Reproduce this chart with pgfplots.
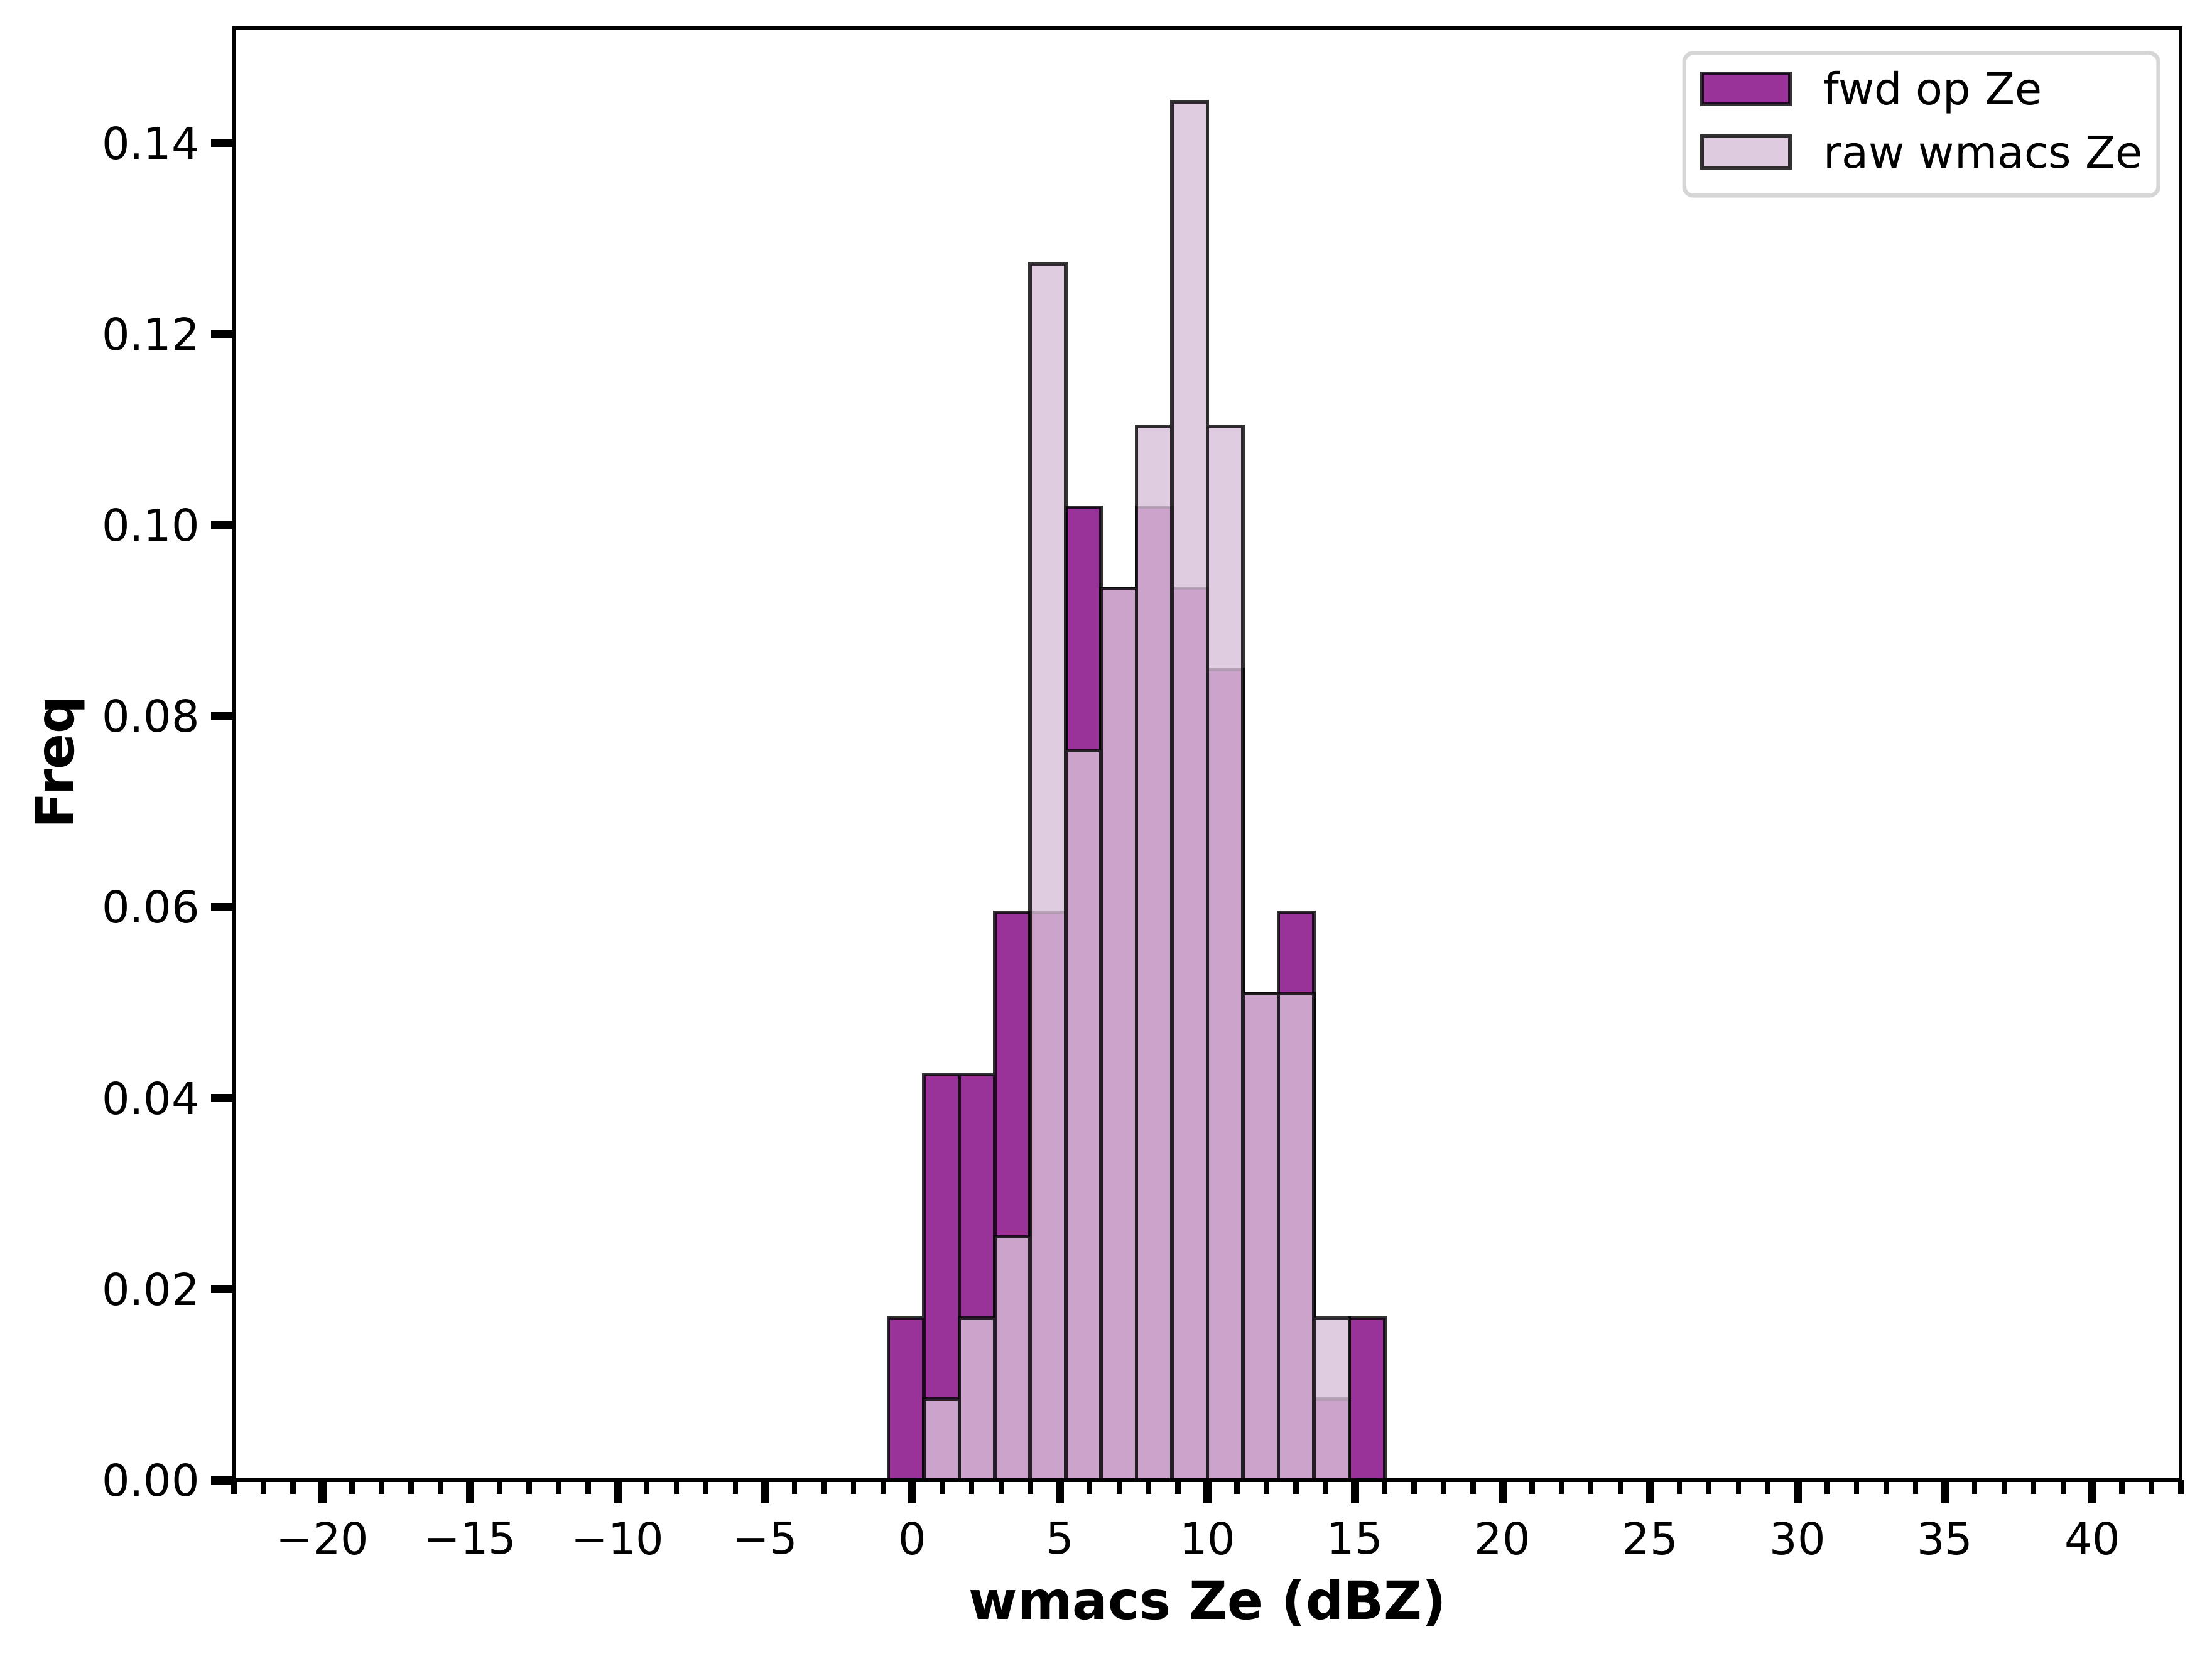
\documentclass[border=0pt]{standalone}
\usepackage{fontspec}
\setmainfont{DejaVu Sans}
\usepackage{pgfplots}
\pgfplotsset{compat=1.18}
\definecolor{mpurple}{RGB}{128,0,128}
\definecolor{mthistle}{RGB}{216,191,216}
\definecolor{legframe}{RGB}{214,214,214}
\pgfplotsset{
  mylegend/.style={legend image code/.code={\draw[##1,sharp corners] (0pt,-2.65pt) rectangle (20pt,4.45pt);}}
}
\begin{document}
\begin{tikzpicture}
\begin{axis}[
  scale only axis, width=442.84pt, height=330.29pt,
  xmin=-23, xmax=43, ymin=0, ymax=0.1520,
  axis on top,
  axis line style={line width=0.8pt, black},
  tick align=outside, tick pos=left,
  xtick={-20,-15,-10,-5,0,5,10,15,20,25,30,35,40},
  xticklabels={−20,−15,−10,−5,0,5,10,15,20,25,30,35,40},
  minor xtick={-23,-22,...,43},
  ytick={0,0.02,0.04,0.06,0.08,0.10,0.12,0.14},
  yticklabels={0.00,0.02,0.04,0.06,0.08,0.10,0.12,0.14},
  major tick length=5.2pt, minor tick length=3.1pt,
  every major tick/.append style={line width=1.86pt, black},
  every minor tick/.append style={line width=1.2pt, black},
  xticklabel style={font=\fontsize{10}{12}\selectfont, inner sep=0pt, anchor=north},
  yticklabel style={font=\fontsize{10}{12}\selectfont, inner sep=0pt, anchor=east},
  xticklabel shift=4.04pt, yticklabel shift=2.4pt,
  xlabel={wmacs Ze (dBZ)},
  ylabel={Freq},
  xlabel style={at={(axis description cs:0.5,-0.0675)}, anchor=north, inner sep=0pt, font=\bfseries\fontsize{12}{14}\selectfont},
  ylabel style={at={(axis description cs:-0.0761,0.4945)}, rotate=0, anchor=south, inner sep=0pt, font=\bfseries\fontsize{12}{14}\selectfont},
  legend style={at={(1,1)}, anchor=north east, xshift=-4.7pt, yshift=-5.2pt,
    draw=legframe, line width=0.9pt, rounded corners=2pt, fill=white,
    inner xsep=3.6pt, inner ysep=4.1pt, row sep=4.6pt, column sep=7.3pt,
    font=\fontsize{10}{12}\selectfont,
    nodes={inner sep=0pt, text height=7.6pt, text depth=2.2pt}},
  legend cell align=left,
]
\addplot[ybar interval, fill=mpurple, fill opacity=0.8, draw=black, draw opacity=0.8, line width=0.8pt, mylegend] coordinates {
(-0.820,0.01698) (0.382,0.04244) (1.584,0.04244) (2.786,0.05942) (3.988,0.05942)
(5.191,0.10187) (6.393,0.09338) (7.595,0.10187) (8.797,0.09338) (9.999,0.08489)
(11.201,0.05093) (12.403,0.05942) (13.605,0.00849) (14.807,0.01698) (16.009,0.01698)
};
\addlegendentry{fwd op Ze}
\addplot[ybar interval, fill=mthistle, fill opacity=0.8, draw=black, draw opacity=0.8, line width=0.8pt, mylegend] coordinates {
(0.382,0.00849) (1.584,0.01698) (2.786,0.02547) (3.988,0.12733) (5.191,0.07640)
(6.393,0.09338) (7.595,0.11036) (8.797,0.14431) (9.999,0.11036) (11.201,0.05093)
(12.403,0.05093) (13.605,0.01698) (14.807,0.01698)
};
\addlegendentry{raw wmacs Ze}
\end{axis}
\pgfresetboundingbox
\path[use as bounding box] ([xshift=-53.24pt,yshift=-41.0pt]current axis.south west) rectangle ([xshift=7.06pt,yshift=6.43pt]current axis.north east);
\end{tikzpicture}
\end{document}
